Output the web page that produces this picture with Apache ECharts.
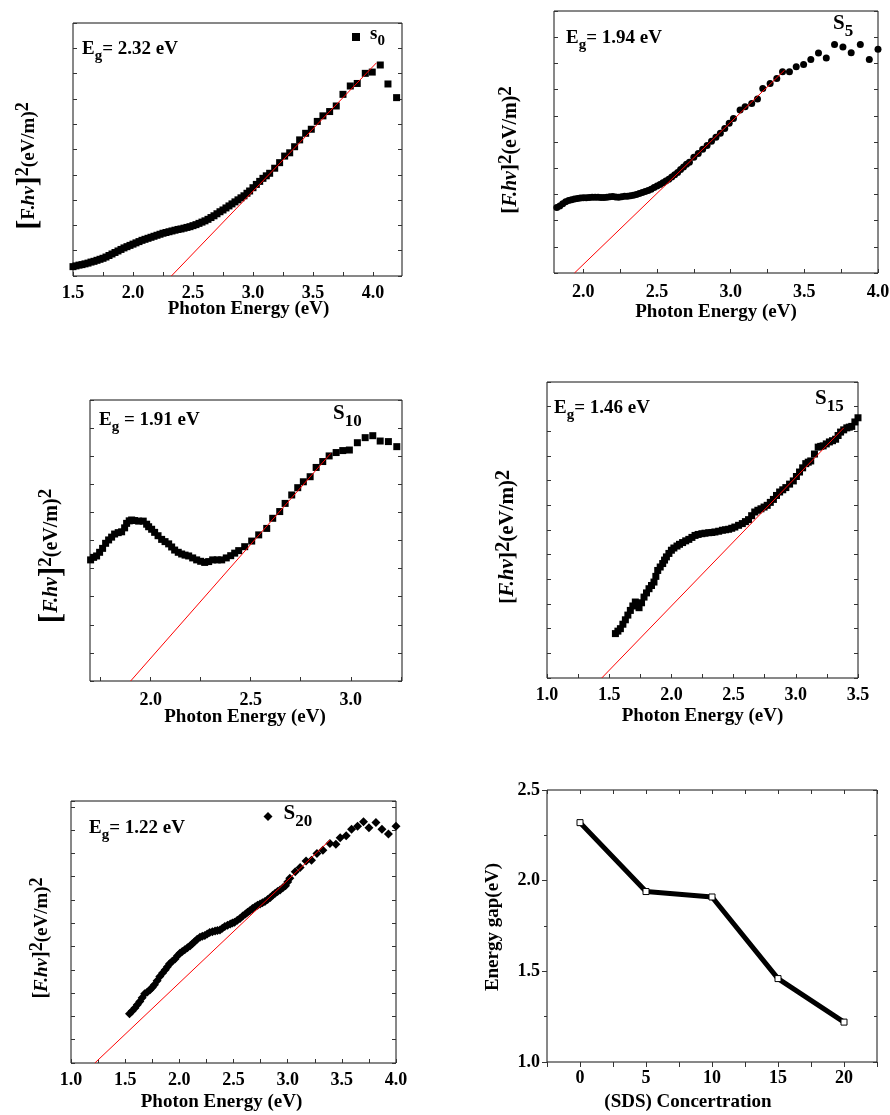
<!DOCTYPE html>
<html><head><meta charset="utf-8">
<script src="https://cdn.jsdelivr.net/npm/echarts@6/dist/echarts.min.js"></script>
<style>html,body{margin:0;padding:0;background:#fff}#c{width:890px;height:1115px}</style>
</head><body><div id="c"></div>
<script>
// ---------------- DATA ----------------
// Panel s0
const s0Energy = [1.500,1.525,1.550,1.575,1.600,1.625,1.650,1.675,1.700,1.725,1.750,1.775,1.800,1.825,1.850,1.875,1.900,1.925,1.950,1.975,2.000,2.025,2.050,2.075,2.100,2.125,2.150,2.175,2.200,2.225,2.250,2.275,2.300,2.325,2.350,2.375,2.400,2.425,2.450,2.475,2.500,2.525,2.550,2.575,2.600,2.625,2.650,2.675,2.700,2.725,2.750,2.775,2.800,2.825,2.850,2.875,2.900,2.925,2.950,2.972,3.000,3.028,3.056,3.083,3.111,3.139,3.181,3.222,3.264,3.306,3.347,3.389,3.439,3.486,3.536,3.583,3.639,3.694,3.750,3.811,3.869,3.936,3.994,4.061,4.125,4.197];
const s0Value = [0.37,0.40,0.43,0.45,0.48,0.51,0.55,0.58,0.62,0.66,0.70,0.75,0.81,0.87,0.93,0.99,1.05,1.11,1.16,1.21,1.26,1.31,1.36,1.41,1.45,1.49,1.53,1.57,1.61,1.65,1.69,1.72,1.75,1.78,1.81,1.84,1.86,1.89,1.92,1.95,1.99,2.03,2.08,2.13,2.18,2.24,2.31,2.38,2.46,2.54,2.61,2.69,2.77,2.85,2.93,3.01,3.09,3.17,3.27,3.36,3.49,3.62,3.74,3.86,3.96,4.06,4.26,4.48,4.74,4.87,5.11,5.38,5.64,5.80,6.11,6.33,6.50,6.72,7.18,7.51,7.61,8.01,8.06,8.34,7.59,7.05];
const s0FitX = [2.32, 4.03];
const s0FitY = [0, 8.43];
const s0TickMarks = [1.5,1.75,2.0,2.25,2.5,2.75,3.0,3.25,3.5,3.75,4.0];
const s0TickLabels = [1.5,2.0,2.5,3.0,3.5,4.0];

// Panel S5
const s5Energy = [1.80,1.82,1.84,1.86,1.88,1.90,1.92,1.94,1.96,1.98,2.00,2.02,2.04,2.06,2.08,2.10,2.12,2.14,2.16,2.18,2.20,2.22,2.24,2.26,2.28,2.30,2.32,2.34,2.36,2.38,2.40,2.42,2.44,2.46,2.48,2.50,2.52,2.54,2.56,2.58,2.60,2.62,2.64,2.66,2.68,2.70,2.72,2.75,2.78,2.81,2.84,2.87,2.90,2.93,2.96,2.99,3.019,3.064,3.098,3.143,3.182,3.218,3.268,3.313,3.352,3.399,3.445,3.495,3.544,3.596,3.649,3.705,3.762,3.818,3.880,3.941,4.000];
const s5Value = [2.47,2.50,2.56,2.64,2.72,2.77,2.80,2.82,2.84,2.86,2.87,2.87,2.88,2.89,2.89,2.89,2.88,2.88,2.89,2.91,2.92,2.90,2.89,2.91,2.93,2.93,2.95,2.97,3.00,3.03,3.07,3.11,3.15,3.20,3.26,3.32,3.38,3.44,3.51,3.58,3.66,3.75,3.84,3.95,4.05,4.15,4.23,4.42,4.56,4.72,4.87,5.03,5.18,5.33,5.52,5.72,5.90,6.22,6.35,6.47,6.64,7.04,7.23,7.42,7.68,7.68,7.87,7.96,8.15,8.40,8.21,8.72,8.63,8.41,8.72,8.15,8.54];
const s5FitX = [1.94, 3.366];
const s5FitY = [0, 7.74];
const s5TickMarks = [2.0,2.25,2.5,2.75,3.0,3.25,3.5,3.75,4.0];
const s5TickLabels = [2.0,2.5,3.0,3.5,4.0];

// Panel S10
const s10Energy = [1.700,1.715,1.730,1.745,1.760,1.775,1.790,1.805,1.820,1.838,1.855,1.870,1.880,1.893,1.905,1.920,1.940,1.963,1.980,1.990,2.005,2.020,2.037,2.055,2.072,2.090,2.105,2.120,2.138,2.155,2.172,2.190,2.210,2.230,2.250,2.270,2.290,2.310,2.333,2.355,2.378,2.400,2.420,2.440,2.470,2.505,2.540,2.580,2.610,2.645,2.672,2.705,2.735,2.763,2.797,2.827,2.860,2.892,2.927,2.960,2.993,3.033,3.072,3.110,3.147,3.188,3.230];
const s10Value = [4.31,4.40,4.45,4.58,4.72,4.90,5.02,5.12,5.23,5.28,5.31,5.45,5.61,5.70,5.73,5.71,5.69,5.69,5.58,5.49,5.40,5.29,5.17,5.04,4.96,4.88,4.77,4.66,4.58,4.52,4.48,4.45,4.38,4.31,4.26,4.22,4.25,4.31,4.31,4.31,4.38,4.46,4.55,4.64,4.78,4.98,5.20,5.43,5.79,6.03,6.32,6.62,6.88,7.09,7.27,7.60,7.81,8.01,8.13,8.20,8.22,8.48,8.66,8.73,8.54,8.52,8.34];
const s10FitX = [1.90, 2.90];
const s10FitY = [0, 8.10];
const s10TickMarks = [1.75,2.0,2.25,2.5,2.75,3.0,3.25];
const s10TickLabels = [2.0,2.5,3.0];

// Panel S15
const s15Energy = [1.55,1.57,1.59,1.61,1.63,1.65,1.67,1.69,1.71,1.725,1.74,1.76,1.78,1.80,1.82,1.84,1.86,1.875,1.89,1.91,1.93,1.945,1.96,1.98,2.00,2.02,2.045,2.065,2.09,2.115,2.14,2.165,2.19,2.215,2.245,2.27,2.30,2.325,2.35,2.38,2.41,2.435,2.46,2.485,2.51,2.54,2.57,2.595,2.62,2.645,2.67,2.695,2.72,2.745,2.77,2.795,2.82,2.845,2.87,2.895,2.92,2.95,2.98,3.005,3.03,3.055,3.08,3.10,3.12,3.15,3.18,3.20,3.22,3.245,3.27,3.295,3.32,3.34,3.36,3.385,3.41,3.43,3.45,3.475,3.50];
const s15Value = [1.80,1.90,2.00,2.18,2.36,2.55,2.74,2.92,3.08,3.00,2.85,3.05,3.28,3.45,3.62,3.75,3.89,4.12,4.36,4.50,4.64,4.78,4.91,5.05,5.18,5.27,5.35,5.42,5.49,5.56,5.62,5.70,5.78,5.82,5.85,5.87,5.89,5.90,5.92,5.95,5.99,6.01,6.03,6.07,6.12,6.19,6.26,6.34,6.42,6.58,6.73,6.80,6.86,6.93,7.00,7.12,7.24,7.40,7.54,7.63,7.72,7.86,7.99,8.17,8.35,8.52,8.69,8.75,8.80,9.08,9.36,9.39,9.41,9.49,9.57,9.62,9.68,9.83,9.97,10.06,10.14,10.17,10.20,10.38,10.55];
const s15FitX = [1.44, 3.385];
const s15FitY = [0, 10.14];
const s15TickMarks = [1.0,1.25,1.5,1.75,2.0,2.25,2.5,2.75,3.0,3.25,3.5];
const s15TickLabels = [1.0,1.5,2.0,2.5,3.0,3.5];

// Panel S20
const s20Energy = [1.54,1.565,1.59,1.612,1.635,1.657,1.68,1.705,1.73,1.75,1.77,1.795,1.82,1.845,1.87,1.89,1.91,1.935,1.96,1.983,2.005,2.027,2.05,2.075,2.10,2.12,2.14,2.165,2.19,2.212,2.235,2.257,2.28,2.305,2.33,2.352,2.375,2.397,2.42,2.445,2.47,2.49,2.51,2.535,2.56,2.585,2.61,2.63,2.65,2.675,2.70,2.722,2.745,2.767,2.79,2.815,2.84,2.862,2.885,2.907,2.93,2.955,2.98,3.00,3.02,3.07,3.115,3.17,3.22,3.27,3.325,3.39,3.445,3.485,3.54,3.59,3.645,3.70,3.75,3.815,3.87,3.93,4.00];
const s20Value = [2.11,2.23,2.36,2.50,2.64,2.80,2.97,3.05,3.14,3.24,3.36,3.53,3.71,3.86,4.00,4.13,4.26,4.37,4.47,4.60,4.71,4.79,4.86,4.95,5.03,5.12,5.21,5.31,5.40,5.44,5.47,5.54,5.60,5.64,5.67,5.69,5.71,5.79,5.86,5.92,5.97,6.01,6.04,6.13,6.21,6.31,6.40,6.47,6.54,6.63,6.71,6.77,6.83,6.88,6.93,7.02,7.11,7.20,7.29,7.36,7.43,7.52,7.61,7.77,7.93,8.21,8.39,8.67,8.71,9.00,9.14,9.43,9.39,9.67,9.76,10.04,10.17,10.36,10.10,10.33,10.04,9.83,10.17];
const s20FitX = [1.22, 3.39];
const s20FitY = [0, 9.57];
const s20TickMarks = [1.0,1.25,1.5,1.75,2.0,2.25,2.5,2.75,3.0,3.25,3.5,3.75,4.0];
const s20TickLabels = [1.0,1.5,2.0,2.5,3.0,3.5,4.0];

// Panel energy gap vs SDS
const gapConc = [0, 5, 10, 15, 20];
const gapValue = [2.32, 1.94, 1.91, 1.46, 1.22];
const gapTickMarks = [-2.5,0,2.5,5,7.5,10,12.5,15,17.5,20,22.5];
const gapTickLabels = [0, 5, 10, 15, 20];

// ---------------- CHART ----------------
const FONT = '"Liberation Serif","Times New Roman",serif';
const pair = (xs, ys) => xs.map((x, i) => [x, ys[i]]);
const tickFont = {fontFamily: FONT, fontSize: 18, fontWeight: 'bold', color: '#000'};
const nameFont = {fontFamily: FONT, fontSize: 19, fontWeight: 'bold', color: '#000'};

const panels = [
  {name:'s0', E:s0Energy, V:s0Value, fx:s0FitX, fy:s0FitY, marks:s0TickMarks, labels:s0TickLabels,
   grid:{left:73, top:23, width:329, height:253}, xMin:1.5, xMax:4.242, yMax:10,
   sym:'rect', size:7, margin:8, nameGap:24, shift:11},
  {name:'S5', E:s5Energy, V:s5Value, fx:s5FitX, fy:s5FitY, marks:s5TickMarks, labels:s5TickLabels,
   grid:{left:554, top:11, width:324, height:262}, xMin:1.801, xMax:4.0, yMax:10,
   sym:'circle', size:7, margin:10, nameGap:30, shift:0},
  {name:'S10', E:s10Energy, V:s10Value, fx:s10FitX, fy:s10FitY, marks:s10TickMarks, labels:s10TickLabels,
   grid:{left:90, top:400, width:312, height:281}, xMin:1.697, xMax:3.256, yMax:10,
   sym:'rect', size:7, margin:10, nameGap:27, shift:-1},
  {name:'S15', E:s15Energy, V:s15Value, fx:s15FitX, fy:s15FitY, marks:s15TickMarks, labels:s15TickLabels,
   grid:{left:547, top:382, width:311, height:296}, xMin:1.0, xMax:3.5, yMax:12,
   sym:'rect', size:7, margin:8, nameGap:29, shift:0},
  {name:'S20', E:s20Energy, V:s20Value, fx:s20FitX, fy:s20FitY, marks:s20TickMarks, labels:s20TickLabels,
   grid:{left:71, top:801, width:325, height:262}, xMin:1.0, xMax:4.0, yMax:11.25,
   sym:'diamond', size:9, margin:8, nameGap:30, shift:-12}
];

const grids = [], xAxes = [], yAxes = [], series = [];
function namePad(shift){ return shift >= 0 ? [0,0,0,2*shift] : [0,-2*shift,0,0]; }
const noLine = {show:false, onZero:false};

panels.forEach((p, g) => {
  grids.push(Object.assign({show:true, borderColor:'#111', borderWidth:1, backgroundColor:'transparent', outerBoundsMode:'none', containLabel:false}, p.grid));
  const xi = xAxes.length;
  xAxes.push({
    gridIndex:g, type:'value', min:p.xMin, max:p.xMax,
    axisLine:noLine, splitLine:{show:false},
    axisTick:{show:true, inside:true, length:4, customValues:p.marks, lineStyle:{color:'#333', width:1}},
    axisLabel:Object.assign({show:true, customValues:p.labels, formatter:v => Number(v).toFixed(1), margin:p.margin, hideOverlap:false}, tickFont),
    name:'Photon Energy (eV)', nameLocation:'middle', nameGap:p.nameGap, nameMoveOverlap:false,
    nameTextStyle:Object.assign({padding:namePad(p.shift)}, nameFont)
  });
  const yi = yAxes.length;
  ['left','right'].forEach(pos => yAxes.push({
    gridIndex:g, type:'value', position:pos, min:0, max:p.yMax, interval:1,
    axisLine:noLine, splitLine:{show:false}, axisLabel:{show:false},
    axisTick:{show:true, inside:true, length:4, lineStyle:{color:'#333', width:1}}
  }));
  series.push({
    type:'scatter', name:p.name, xAxisIndex:xi, yAxisIndex:yi, data:pair(p.E, p.V),
    symbol:p.sym, symbolSize:p.size, itemStyle:{color:'#000', opacity:1}, silent:true, z:2
  });
  series.push({
    type:'line', name:p.name + ' fit', xAxisIndex:xi, yAxisIndex:yi, data:pair(p.fx, p.fy),
    symbol:'none', showSymbol:false, lineStyle:{color:'#ff0000', width:1}, silent:true, z:3
  });
});

// Energy gap panel
const g6 = grids.length;
grids.push({show:true, borderColor:'#111', borderWidth:1, backgroundColor:'transparent', outerBoundsMode:'none', containLabel:false,
  left:547, top:790, width:330, height:272});
const x6 = xAxes.length;
xAxes.push({
  gridIndex:g6, type:'value', min:-2.5, max:22.5, position:'bottom',
  axisLine:noLine, splitLine:{show:false},
  axisTick:{show:true, inside:false, length:5, customValues:gapTickMarks, lineStyle:{color:'#333'}},
  axisLabel:Object.assign({customValues:gapTickLabels, formatter:v => String(v), margin:7, hideOverlap:false}, tickFont),
  name:'(SDS) Concertration', nameLocation:'middle', nameGap:31, nameMoveOverlap:false,
  nameTextStyle:Object.assign({padding:namePad(-24)}, nameFont)
});
xAxes.push({
  gridIndex:g6, type:'value', min:-2.5, max:22.5, position:'top',
  axisLine:noLine, splitLine:{show:false}, axisLabel:{show:false},
  axisTick:{show:true, inside:true, length:4, customValues:gapTickMarks, lineStyle:{color:'#333'}}
});
const y6 = yAxes.length;
yAxes.push({
  gridIndex:g6, type:'value', position:'left', min:1.0, max:2.5, interval:0.5,
  axisLine:noLine, splitLine:{show:false},
  axisTick:{show:true, inside:false, length:5, lineStyle:{color:'#333'}},
  minorTick:{show:true, splitNumber:2, length:3, lineStyle:{color:'#333'}},
  axisLabel:Object.assign({formatter:v => Number(v).toFixed(1), margin:7}, tickFont)
});
yAxes.push({
  gridIndex:g6, type:'value', position:'right', min:1.0, max:2.5, interval:0.5,
  axisLine:noLine, splitLine:{show:false}, axisLabel:{show:false},
  axisTick:{show:true, inside:true, length:4, lineStyle:{color:'#333'}},
  minorTick:{show:true, splitNumber:2, length:3, lineStyle:{color:'#333'}}
});
series.push({
  type:'line', name:'Energy gap', xAxisIndex:x6, yAxisIndex:y6, data:pair(gapConc, gapValue),
  symbol:'rect', symbolSize:6, showSymbol:true,
  lineStyle:{color:'#000', width:5},
  itemStyle:{color:'#fff', borderColor:'#000', borderWidth:1, opacity:1}, silent:true, z:3
});

// Labels (rich text)
const labRich = {
  m:{fontFamily:FONT, fontSize:19, fontWeight:'bold', color:'#000', verticalAlign:'top'},
  sub:{fontFamily:FONT, fontSize:15, fontWeight:'bold', color:'#000', verticalAlign:'bottom', padding:[9,0,0,0]}
};
const sRich = {
  m:{fontFamily:FONT, fontSize:21, fontWeight:'bold', color:'#000', verticalAlign:'top'},
  sub:{fontFamily:FONT, fontSize:17, fontWeight:'bold', color:'#000', verticalAlign:'bottom', padding:[10,0,0,0]}
};
const titles = [
  {text:'{m|E}{sub|g}{m|= 2.32 eV}', left:82, top:40},
  {text:'{m|E}{sub|g}{m|= 1.94 eV}', left:566, top:28.5},
  {text:'{m|E}{sub|g}{m| = 1.91 eV}', left:99, top:410.5},
  {text:'{m|E}{sub|g}{m|= 1.46 eV}', left:554, top:398.5},
  {text:'{m|E}{sub|g}{m|= 1.22 eV}', left:89, top:818.5}
].map(t => ({text:t.text, left:t.left, top:t.top, padding:0, textStyle:{rich:labRich}}));
[
  {text:'{m|S}{sub|5}', left:833, top:13.5},
  {text:'{m|S}{sub|10}', left:333, top:403},
  {text:'{m|S}{sub|15}', left:815, top:388}
].forEach(t => titles.push({text:t.text, left:t.left, top:t.top, padding:0, textStyle:{rich:sRich}}));

const legends = [
  {data:['s0'], left:352, top:25, icon:'rect', itemWidth:8, itemHeight:8, padding:0, selectedMode:false,
   itemStyle:{opacity:1}, formatter:() => '{m|s}{sub|0}', textStyle:{rich:labRich, padding:[0,0,0,5]}},
  {data:['S20'], left:263.5, top:803, icon:'diamond', itemWidth:9, itemHeight:9, padding:0, selectedMode:false,
   itemStyle:{opacity:1}, formatter:() => '{m|S}{sub|20}', textStyle:{rich:sRich, padding:[0,0,0,6]}}
];

// Rotated y-axis titles
function yRich(base, br, sup, supPad, italicF) {
  const s = {fontFamily:FONT, fontWeight:'bold', fill:'#000', color:'#000'};
  return {
    br:Object.assign({}, s, {fontSize:br}),
    f:Object.assign({}, s, {fontSize:base, fontStyle: italicF ? 'italic' : 'normal'}),
    t:Object.assign({}, s, {fontSize:base}),
    i:Object.assign({}, s, {fontSize:base, fontStyle:'italic'}),
    sup:Object.assign({}, s, {fontSize:sup, verticalAlign:'top', padding:[0,0,supPad,0]})
  };
}
const yNameText = '{br|[}{f|F.}{i|hv}{br|]}{sup|2}{t|(eV/m)}{sup|2}';
function yName(x, y, text, rich) {
  return {type:'text', x:x, y:y, rotation:Math.PI/2, silent:true,
    style:{text:text, rich:rich, align:'center', verticalAlign:'middle', textAlign:'center', textVerticalAlign:'middle',
      fill:'#000', fontFamily:FONT, fontSize:19, fontWeight:'bold'}};
}
const graphics = [
  yName(29, 166, yNameText, yRich(19, 30, 18, 4, false)),
  yName(511, 150, yNameText, yRich(20, 21, 19, 9, true)),
  yName(52, 556, yNameText, yRich(20, 31, 19, 4, true)),
  yName(508, 537, yNameText, yRich(21, 22, 20, 9, true)),
  yName(42, 938, yNameText, yRich(19, 20, 18, 9, true)),
  yName(493, 927, 'Energy gap(eV)', {})
];

const chart = echarts.init(document.getElementById('c'), null, {renderer:'canvas'});
chart.setOption({
  animation:false,
  backgroundColor:'#fff',
  grid:grids, xAxis:xAxes, yAxis:yAxes, series:series,
  title:titles, legend:legends, graphic:graphics
});
</script>
</body></html>
